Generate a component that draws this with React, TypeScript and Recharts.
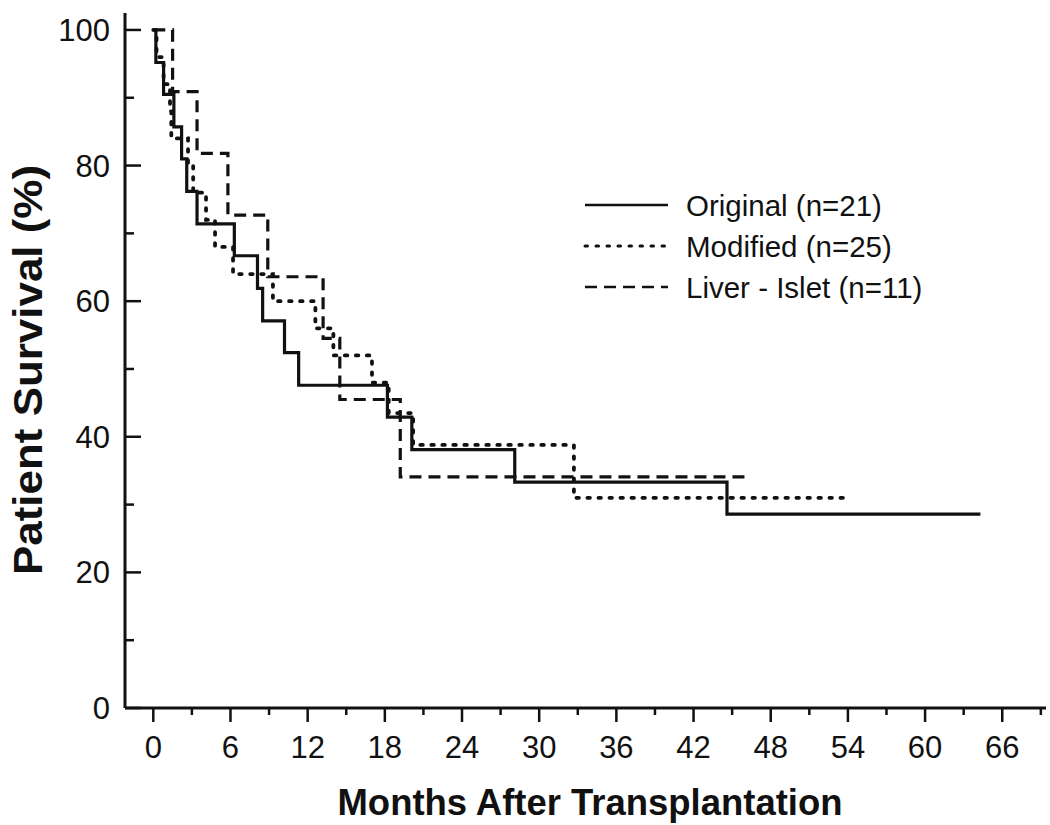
import React from 'react';
import { LineChart, Line, XAxis, YAxis, Legend } from 'recharts';

// Kaplan-Meier steps (months, % surviving)
const originalMonths = [0, 0.2, 0.8, 1.6, 2.2, 2.6, 3.4, 6.3, 8.1, 8.5, 10.2, 11.3, 18.2, 20.1, 28.1, 44.6, 64.3];
const originalSurvival = [100, 95.2, 90.5, 85.7, 81.0, 76.2, 71.4, 66.7, 61.9, 57.1, 52.4, 47.6, 42.9, 38.1, 33.3, 28.6, 28.6];

const modifiedMonths = [0, 0.25, 0.8, 1.3, 1.4, 2.7, 3.1, 4.1, 4.8, 6.2, 9.3, 12.6, 14.0, 17.0, 18.3, 20.2, 32.7, 54.2];
const modifiedSurvival = [100, 96, 92, 88, 84, 80, 76, 72, 68, 64, 60, 56, 52, 48, 43.5, 38.8, 31, 31];

const liverMonths = [0, 1.5, 3.4, 5.8, 8.9, 13.2, 14.5, 19.2, 46.3];
const liverSurvival = [100, 90.9, 81.8, 72.7, 63.6, 54.5, 45.5, 34.1, 34.1];

const monthTicks = [0, 3, 6, 9, 12, 15, 18, 21, 24, 27, 30, 33, 36, 39, 42, 45, 48, 51, 54, 57, 60, 63, 66, 69];
const survivalTicks = [0, 10, 20, 30, 40, 50, 60, 70, 80, 90, 100];

const seriesNames = ['Original (n=21)', 'Modified (n=25)', 'Liver - Islet (n=11)'];

const toPoints = (months: number[], surv: number[]) => months.map((m, i) => ({ m, s: surv[i] }));
const originalData = toPoints(originalMonths, originalSurvival);
const modifiedData = toPoints(modifiedMonths, modifiedSurvival);
const liverData = toPoints(liverMonths, liverSurvival);

const INK = '#111';
const FONT = '"Liberation Sans", Arial, sans-serif';
const DOTTED = '2.5 8.5';
const DASHED = '12 7';

function MonthTick(props: any) {
  const { x, y, payload } = props;
  const major = payload.value % 6 === 0;
  return (
    <g>
      <line x1={x} y1={y} x2={x} y2={y + (major ? 14 : 7)} stroke={INK} strokeWidth={2.5} />
      {major && (
        <text x={x} y={y + 50} textAnchor="middle" fontSize={31} fill={INK} fontFamily={FONT}>
          {payload.value}
        </text>
      )}
    </g>
  );
}

function SurvivalTick(props: any) {
  const { x, y, payload } = props;
  const major = payload.value % 20 === 0;
  return (
    <g>
      <line x1={x} y1={y} x2={x + (major ? 16 : 9)} y2={y} stroke={INK} strokeWidth={2.5} />
      {major && (
        <text x={x - 15} y={y + 11} textAnchor="end" fontSize={31} fill={INK} fontFamily={FONT}>
          {payload.value}
        </text>
      )}
    </g>
  );
}

function LegendBox() {
  const rows = [
    { name: seriesNames[0], dash: undefined, cap: 'butt', w: 2.5 },
    { name: seriesNames[1], dash: DOTTED, cap: 'round', w: 3 },
    { name: seriesNames[2], dash: DASHED, cap: 'butt', w: 2.5 },
  ];
  return (
    <svg width={370} height={130}>
      {rows.map((r, i) => (
        <g key={r.name}>
          <line x1={5} x2={88} y1={25 + i * 41} y2={25 + i * 41} stroke={INK} strokeWidth={r.w}
            strokeDasharray={r.dash} strokeLinecap={r.cap as any} />
          <text x={106} y={36 + i * 41} fontSize={29.5} fill={INK} fontFamily={FONT}>{r.name}</text>
        </g>
      ))}
    </svg>
  );
}

export default function App() {
  return (
    <div style={{ position: 'absolute', left: 0, top: 0, width: 1050, height: 825, background: '#fff' }}>
      <LineChart width={1050} height={825} margin={{ top: 13, right: 4, bottom: 0, left: 0 }}>
        <XAxis
          dataKey="m"
          type="number"
          domain={[-2.2, 69.4]}
          ticks={monthTicks}
          interval={0}
          height={117}
          tickSize={0}
          tickMargin={0}
          tick={<MonthTick />}
          axisLine={{ stroke: INK, strokeWidth: 3 }}
          allowDataOverflow
          label={{
            content: () => (
              <text x={590} y={815} textAnchor="middle" fontSize={37} fontWeight="bold" fill={INK}
                fontFamily={FONT} textLength={505} lengthAdjust="spacingAndGlyphs">
                Months After Transplantation
              </text>
            ),
          }}
        />
        <YAxis
          dataKey="s"
          type="number"
          domain={[0, 102.5]}
          ticks={survivalTicks}
          interval={0}
          width={125}
          tickSize={0}
          tickMargin={0}
          tick={<SurvivalTick />}
          axisLine={{ stroke: INK, strokeWidth: 3 }}
          allowDataOverflow
          label={{
            content: () => (
              <text x={42} y={370} transform="rotate(-90, 42, 370)" textAnchor="middle" fontSize={40}
                fontWeight="bold" fill={INK} fontFamily={FONT} textLength={410} lengthAdjust="spacingAndGlyphs">
                Patient Survival (%)
              </text>
            ),
          }}
        />
        <Legend
          layout="vertical"
          align="center"
          verticalAlign="middle"
          content={() => <LegendBox />}
          wrapperStyle={{ left: 580, top: 180, width: 370, height: 130 }}
        />
        <Line data={originalData} dataKey="s" name={seriesNames[0]} type="stepAfter" stroke={INK}
          strokeWidth={3.2} dot={false} activeDot={false} isAnimationActive={false} />
        <Line data={modifiedData} dataKey="s" name={seriesNames[1]} type="stepAfter" stroke={INK}
          strokeWidth={3.8} strokeDasharray={DOTTED} strokeLinecap="round" dot={false} activeDot={false}
          isAnimationActive={false} />
        <Line data={liverData} dataKey="s" name={seriesNames[2]} type="stepAfter" stroke={INK}
          strokeWidth={3.2} strokeDasharray={DASHED} dot={false} activeDot={false} isAnimationActive={false} />
      </LineChart>
    </div>
  );
}
